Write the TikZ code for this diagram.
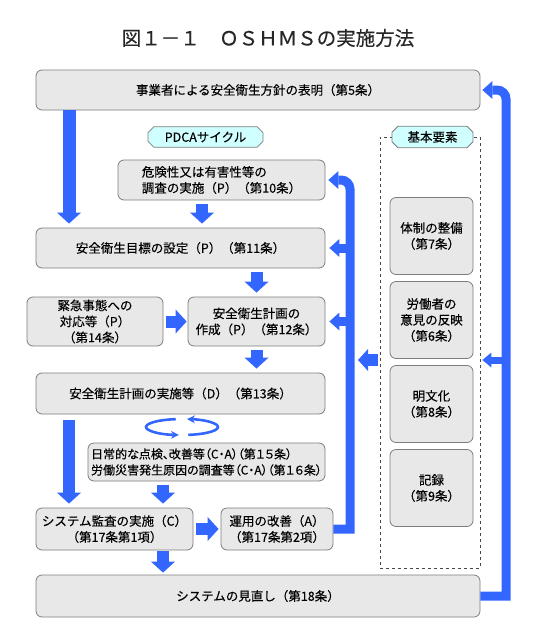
\documentclass[tikz,border=0pt]{standalone}
\usepackage{fontspec}
\setmainfont{Noto Sans CJK JP}[FakeBold=0.25]
\newfontfamily\jpprop{Noto Sans CJK JP}[RawFeature=+palt,FakeBold=0.25]
\usetikzlibrary{arrows.meta,shapes.misc}
\definecolor{oshblue}{RGB}{51,102,255}
\definecolor{oshgray}{RGB}{232,232,232}
\definecolor{oshline}{RGB}{125,125,125}
\definecolor{oshcyan}{RGB}{208,255,255}
\definecolor{oshdash}{RGB}{70,70,70}

\begin{document}
\begin{tikzpicture}[
  x=1pt, y=-1pt,
  box/.style={
    draw=oshline,
    fill=oshgray,
    rounded corners=6pt,
    line width=0.8pt,
    align=center,
    font=\fontsize{12.5}{16}\selectfont,
    inner sep=2pt,
    minimum height=40pt
  },
  elem/.style={
    box,
    minimum width=83pt,
    minimum height=77pt
  },
  tag/.style={
    draw=oshline,
    fill=oshcyan,
    chamfered rectangle,
    chamfered rectangle xsep=3pt,
    chamfered rectangle ysep=3pt,
    line width=0.8pt,
    minimum height=20pt,
    inner sep=2pt,
    font=\fontsize{12.5}{16}\selectfont
  },
  blk/.style={
    -{Triangle[width=24pt,length=11pt,line width=0pt]},
    oshblue,
    line width=12pt,
    shorten >=4pt,
    shorten <=4pt
  },
  fb/.style={
    -{Triangle[width=18pt,length=10pt,line width=0pt]},
    oshblue,
    line width=9pt
  },
  cyc/.style={
    -{Stealth[width=8pt,length=8pt,line width=0pt]},
    oshblue,
    line width=2.6pt
  }
]
\useasboundingbox (0,0) rectangle (537,640);

\node[font=\fontsize{19.5}{22}\selectfont, text=black!85] (title) at (268,38) {図１－１　ＯＳＨＭＳの実施方法};

\node[box, minimum width=444pt] (policy) at (258,90) {事業者による安全衛生方針の表明（第5条）};

\node[draw=oshdash, dashed, line width=0.8pt, minimum width=100pt, minimum height=431pt] (basic) at (430,352.5) {};

\node[tag, minimum width=115pt] (pdca) at (205.5,137) {PDCAサイクル};

\node[tag, minimum width=81pt] (kihon) at (432.5,137) {基本要素};

\node[box, align=left, minimum width=207pt] (risk) at (221.5,180) {危険性又は有害性等の\\調査の実施（P）（第10条）};

\node[box, minimum width=289pt] (target) at (180.5,248) {安全衛生目標の設定（P）（第11条）};

\node[box, minimum width=136pt, minimum height=49pt] (emerg) at (95,321.5) {緊急事態への\\対応等（P）\\（第14条）};

\node[box, minimum width=137pt, minimum height=49pt] (plan) at (256.5,321.5) {安全衛生計画の\\作成（P）（第12条）};

\node[box, minimum width=289pt, minimum height=41pt] (impl) at (180.5,393.5) {安全衛生計画の実施等（D）（第13条）};

\node[box, align=left, minimum width=237pt, minimum height=38pt, font=\jpprop\fontsize{12}{16}\selectfont] (daily) at (206.5,462) {日常的な点検、改善等（C・A）（第１５条）\\労働災害発生原因の調査等（C・A）（第１６条）};

\node[box, minimum width=157pt, minimum height=42pt] (audit) at (114.5,529) {システム監査の実施（C）\\（第17条第1項）};

\node[box, minimum width=112pt, minimum height=42pt] (kaizen) at (277,529) {運用の改善（A）\\（第17条第2項）};

\node[box, minimum width=444pt, minimum height=42pt] (review) at (258,596) {システムの見直し（第18条）};

\node[elem] (e1) at (431.5,236) {体制の整備\\（第7条）};
\node[elem] (e2) at (431.5,320) {労働者の\\意見の反映\\（第6条）};
\node[elem] (e3) at (431.5,404) {明文化\\（第8条）};
\node[elem] (e4) at (431.5,488) {記録\\（第9条）};

\coordinate (lx) at (69,0);
\coordinate (a1) at (202,0);
\coordinate (a2) at (163,0);
\coordinate (fbx) at (350,0);
\coordinate (rx) at (506,0);
\coordinate (cyc) at (182,427);
\coordinate (bw) at ([yshift=-7.5pt]basic.west);
\coordinate (be) at ([yshift=-7.5pt]basic.east);

\draw[blk, line width=13pt, shorten <=0pt] (lx |- policy.south) -- (lx |- target.north);
\draw[blk] (a1 |- risk.south) -- (a1 |- target.north);
\draw[blk] (target.south -| plan.north) -- (plan.north);
\draw[blk, shorten <=3pt, shorten >=1pt] (emerg.east) -- (plan.west);
\draw[blk] (plan.south) -- (plan.south |- impl.north);
\draw[blk, shorten <=6pt] (lx |- impl.south) -- (lx |- audit.north);
\draw[blk] (a2 |- daily.south) -- (a2 |- audit.north);
\draw[blk, shorten <=3pt, shorten >=2pt] (audit.east) -- (kaizen.west);
\draw[blk, shorten <=1pt, shorten >=2pt] (a2 |- audit.south) -- (a2 |- review.north);

\draw[fb, shorten >=3pt] (kaizen.east) -- (fbx |- kaizen.east) [rounded corners=9pt] -- (fbx |- risk.east) -- (risk.east);
\draw[fb, shorten >=4pt] (fbx |- target.east) -- (target.east);
\draw[fb, shorten >=4pt] (fbx |- plan.east) -- (plan.east);

\draw[fb, shorten >=2pt] (review.east) -- (rx |- review.east) [rounded corners=9pt] -- (rx |- policy.east) -- (policy.east);
\draw[fb, line width=7pt, -{Triangle[width=15pt,length=9pt,line width=0pt]}, shorten >=2pt] (rx |- be) -- (be);

\draw[blk, line width=12pt, -{Triangle[width=22pt,length=10pt,line width=0pt]}, shorten <=2pt, shorten >=8pt] (bw) -- (fbx |- bw);

\draw[cyc] ([shift={(100:36pt and 8pt)}]cyc) arc[start angle=100, end angle=265, x radius=36pt, y radius=8pt];
\draw[cyc] ([shift={(280:36pt and 8pt)}]cyc) arc[start angle=280, end angle=442, x radius=36pt, y radius=8pt];

\end{tikzpicture}
\end{document}
